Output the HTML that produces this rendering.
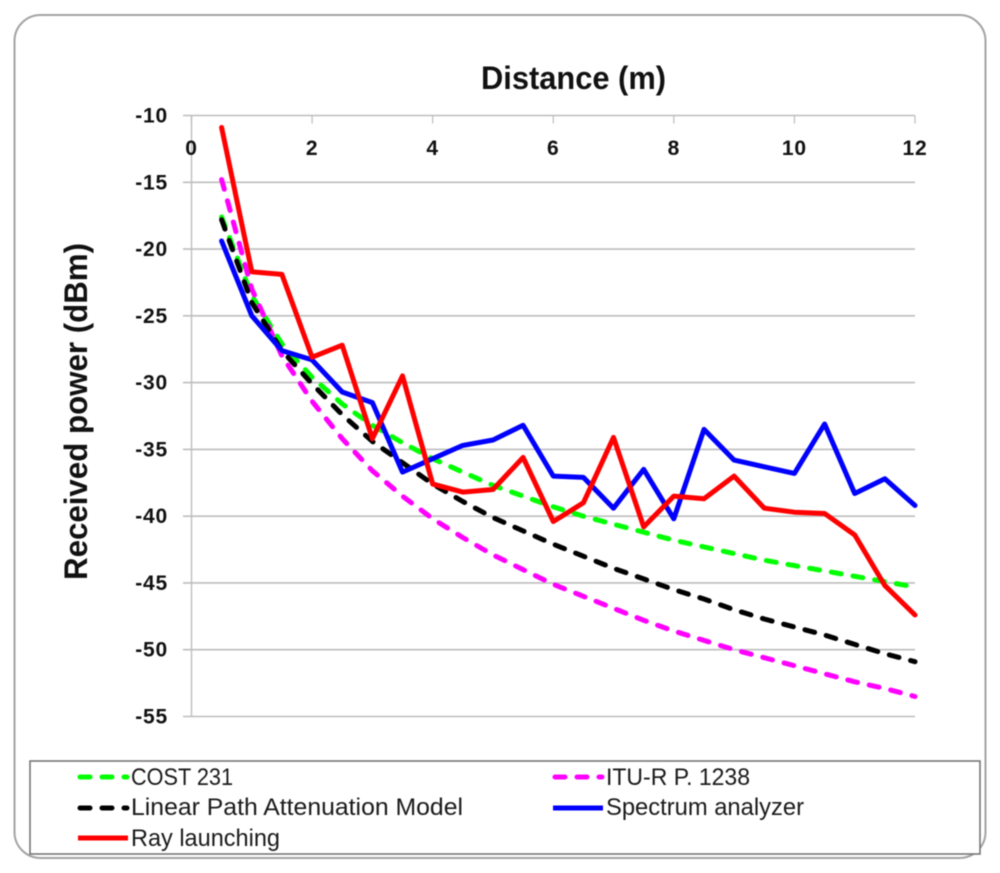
<!DOCTYPE html>
<html lang="en">
<head>
<meta charset="utf-8">
<title>Received power vs distance</title>
<style>
html,body{margin:0;padding:0;background:#fff;width:1000px;height:873px;overflow:hidden}
svg{display:block;filter:blur(0.45px)}
text{font-family:"Liberation Sans",sans-serif;fill:#111}
.tick{font-size:21px;font-weight:bold;letter-spacing:0.8px}
.leg{font-size:24px;fill:#1a1a1a}
</style>
</head>
<body>
<svg id="chart" width="1000" height="873" viewBox="0 0 1000 873" xmlns="http://www.w3.org/2000/svg">
  <rect x="14.5" y="15" width="971" height="843" rx="26" fill="#fff" stroke="#a3a3a3" stroke-width="2"/>
  <g id="grid"></g>
  <g id="xticks"></g>
  <g id="yticks"></g>
  <text x="481" y="89" font-size="32" font-weight="bold" textLength="185" lengthAdjust="spacingAndGlyphs">Distance (m)</text>
  <text transform="translate(87,580) rotate(-90)" font-size="32" font-weight="bold" textLength="337" lengthAdjust="spacingAndGlyphs">Received power (dBm)</text>
  <g id="series"></g>
  <g>
    <rect x="30" y="761" width="950" height="93" fill="#fff" stroke="#6e6e6e" stroke-width="1.5"/>
    <g>
      <line x1="80" y1="777" x2="127" y2="777" stroke="#00ff00" stroke-width="5" stroke-dasharray="10 12" stroke-linecap="round"/>
      <text class="leg" x="131" y="785" textLength="102" lengthAdjust="spacingAndGlyphs">COST 231</text>
    </g>
    <g>
      <line x1="555" y1="777" x2="602" y2="777" stroke="#ff00ff" stroke-width="5" stroke-dasharray="10 12" stroke-linecap="round"/>
      <text class="leg" x="606" y="785" textLength="144" lengthAdjust="spacingAndGlyphs">ITU-R P. 1238</text>
    </g>
    <g>
      <line x1="80" y1="808" x2="127" y2="808" stroke="#000" stroke-width="5" stroke-dasharray="10 12" stroke-linecap="round"/>
      <text class="leg" x="131" y="815" textLength="332" lengthAdjust="spacingAndGlyphs">Linear Path Attenuation Model</text>
    </g>
    <g>
      <line x1="553" y1="808" x2="603" y2="808" stroke="#0000ff" stroke-width="5"/>
      <text class="leg" x="606" y="815" textLength="198" lengthAdjust="spacingAndGlyphs">Spectrum analyzer</text>
    </g>
    <g>
      <line x1="78" y1="838" x2="128" y2="838" stroke="#ff0000" stroke-width="5"/>
      <text class="leg" x="131" y="846" textLength="149" lengthAdjust="spacingAndGlyphs">Ray launching</text>
    </g>
  </g>
</svg>
<script>
const distances = [0.5,1,1.5,2,2.5,3,3.5,4,4.5,5,5.5,6,6.5,7,7.5,8,8.5,9,9.5,10,10.5,11,11.5,12];
const cost231 = [-17.6,-23.5,-27.1,-29.6,-31.6,-33.2,-34.5,-35.7,-36.7,-37.7,-38.5,-39.3,-40,-40.6,-41.2,-41.8,-42.3,-42.8,-43.3,-43.7,-44.1,-44.5,-44.9,-45.3];
const ituR = [-14.8,-23,-28,-31.4,-34.2,-36.6,-38.5,-40.2,-41.6,-42.9,-44,-45.1,-46,-46.9,-47.8,-48.6,-49.3,-50,-50.6,-51.2,-51.8,-52.4,-52.9,-53.5];
const linearPath = [-17.8,-24,-27.6,-30.1,-32.4,-34.4,-36,-37.6,-38.9,-40.1,-41.1,-42.1,-43,-43.9,-44.7,-45.5,-46.2,-47,-47.7,-48.3,-48.9,-49.6,-50.3,-50.9];
const spectrum = [-19.4,-25,-27.6,-28.3,-30.7,-31.5,-36.7,-35.7,-34.7,-34.3,-33.2,-37,-37.1,-39.4,-36.5,-40.2,-33.5,-35.8,-36.3,-36.8,-33.1,-38.3,-37.2,-39.2];
const rayLaunching = [-10.9,-21.7,-21.9,-28.1,-27.2,-34.2,-29.5,-37.6,-38.2,-38,-35.6,-40.4,-39,-34.1,-40.8,-38.5,-38.7,-37,-39.4,-39.7,-39.8,-41.4,-45.2,-47.4];
const xTickLabels = [0,2,4,6,8,10,12];
const yTickLabels = [-10,-15,-20,-25,-30,-35,-40,-45,-50,-55];

const NS = 'http://www.w3.org/2000/svg';
const xScale = v => 191.5 + v * (915 - 191.5) / 12;
const yScale = v => 115.5 + (-10 - v) * (716.5 - 115.5) / 45;

function make(tag, attrs, parent, txt) {
  const el = document.createElementNS(NS, tag);
  for (const k in attrs) el.setAttribute(k, attrs[k]);
  if (txt !== undefined) el.textContent = txt;
  parent.appendChild(el);
  return el;
}

const grid = document.getElementById('grid');
const xticks = document.getElementById('xticks');
const yticks = document.getElementById('yticks');
const seriesGroup = document.getElementById('series');

yTickLabels.forEach(v => {
  const y = yScale(v);
  const gl = make('line', {x1: 183, x2: xScale(12), y1: y, y2: y, stroke: '#bdbdbd', 'stroke-width': 1.6}, grid);
  
  
  const t = make('text', {class: 'tick', x: 168, y: y + 7, 'text-anchor': 'end'}, yticks, String(v));
  
  
});

const yAxis = make('line', {x1: xScale(0), x2: xScale(0), y1: yScale(-10), y2: yScale(-55), stroke: '#bdbdbd', 'stroke-width': 1.4}, grid);



xTickLabels.forEach(v => {
  const x = xScale(v);
  const m = make('line', {x1: x, x2: x, y1: yScale(-10), y2: yScale(-10) + 8, stroke: '#bdbdbd', 'stroke-width': 1.2}, xticks);
  
  
  const t = make('text', {class: 'tick', x: x, y: 155, 'text-anchor': 'middle'}, xticks, String(v));
  
  
});

function drawSeries(values, color, dashed, name) {
  const pts = values.map((v, i) => xScale(distances[i]).toFixed(1) + ',' + yScale(v).toFixed(1)).join(' ');
  const attrs = {points: pts, fill: 'none', stroke: color, 'stroke-width': 5, 'stroke-linejoin': 'round', 'stroke-linecap': 'round'};
  if (dashed) attrs['stroke-dasharray'] = '10 12';
  const line = make('polyline', attrs, seriesGroup);
  
  
}

drawSeries(cost231, '#00ff00', true, 'series-cost-231');
drawSeries(ituR, '#ff00ff', true, 'series-itu-r');
drawSeries(linearPath, '#000000', true, 'series-linear-path');
drawSeries(spectrum, '#0000ff', false, 'series-spectrum-analyzer');
drawSeries(rayLaunching, '#ff0000', false, 'series-ray-launching');
</script>
</body>
</html>
